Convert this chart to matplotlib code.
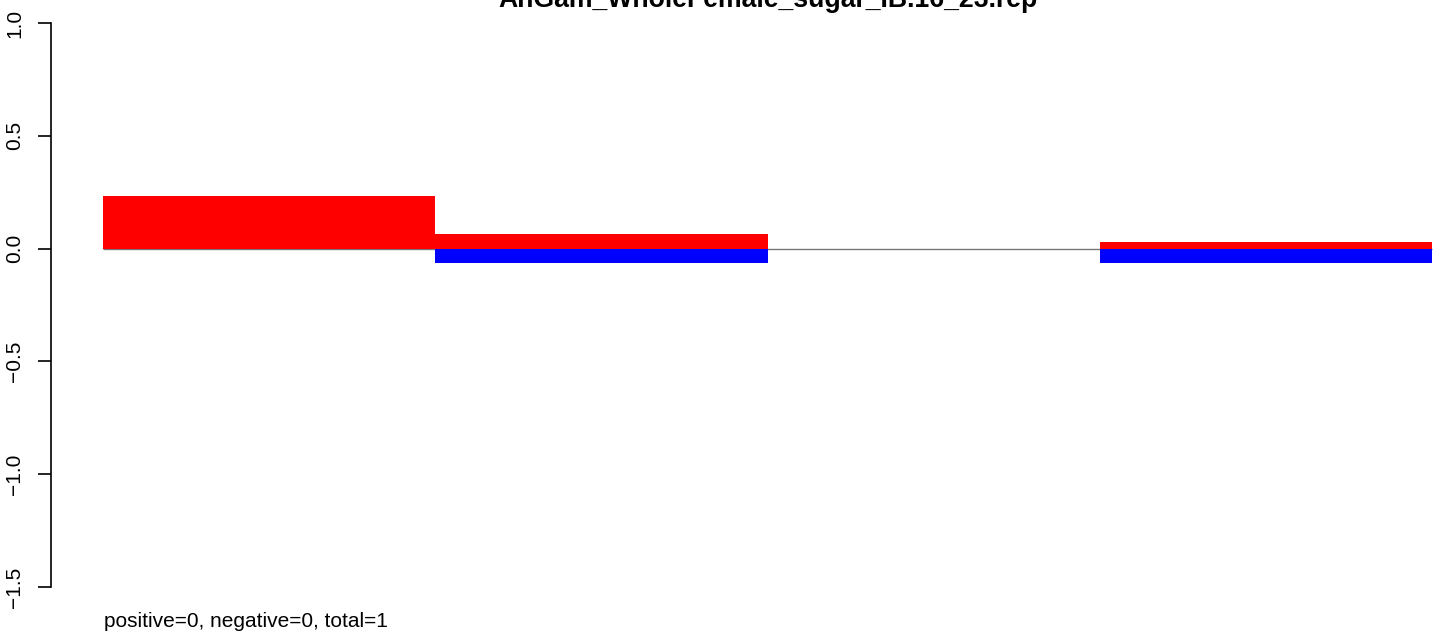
import matplotlib
matplotlib.use("Agg")
import matplotlib.pyplot as plt
import numpy as np

plt.rcParams['font.family'] = ['Liberation Sans', 'DejaVu Sans']

title = "AnGam_WholeFemale_sugar_IB.16_23.rep"
bins = [0, 1, 2, 3]
pos_vals = [0.231, 0.066, 0.0, 0.031]
neg_vals = [0.0, -0.066, 0.0, -0.065]
yticks = [-1.5, -1.0, -0.5, 0.0, 0.5, 1.0]
ytick_labels = ["\u22121.5", "\u22121.0", "\u22120.5", "0.0", "0.5", "1.0"]
footer = "positive=0, negative=0, total=1"

W, H = 1441, 634
fig = plt.figure(figsize=(W / 100, H / 100), dpi=100)

ax_left, ax_right = 51, 1441
ax_top, ax_bot = 23, 587
ax = fig.add_axes([ax_left / W, (H - ax_bot) / H, (ax_right - ax_left) / W, (ax_bot - ax_top) / H])

px_per_unit = (1432 - 103) / 4
ax.set_xlim(-(103 - ax_left) / px_per_unit, 4 + (ax_right - 1432) / px_per_unit)
ax.set_ylim(-1.5, 1.0)

ax.hlines(0, 0, 4, color='#777777', linewidth=1.0, zorder=1)
ax.bar(bins, pos_vals, width=1.0, align='edge', color='#FF0000', linewidth=0, zorder=2)
ax.bar(bins, neg_vals, width=1.0, align='edge', color='#0000FF', linewidth=0, zorder=2)

for s in ['top', 'right', 'bottom']:
    ax.spines[s].set_visible(False)
ax.spines['left'].set_linewidth(1.2)
ax.spines['left'].set_bounds(-1.5, 1.0)
ax.set_xticks([])
ax.set_yticks(yticks)
ax.set_yticklabels(ytick_labels, rotation=90, va='center', fontsize=15)
ax.tick_params(axis='y', length=9.4, width=1.2, pad=10)

mid = 2.0
fig.text(ax_left / W + (mid - ax.get_xlim()[0]) * px_per_unit / W, 1 - 7 / H, title,
         ha='center', va='baseline', fontsize=19.2, fontweight='bold')
fig.text(104 / W, (H - 627) / H, footer, ha='left', va='baseline', fontsize=15)

fig.savefig('out.png', dpi=100)
